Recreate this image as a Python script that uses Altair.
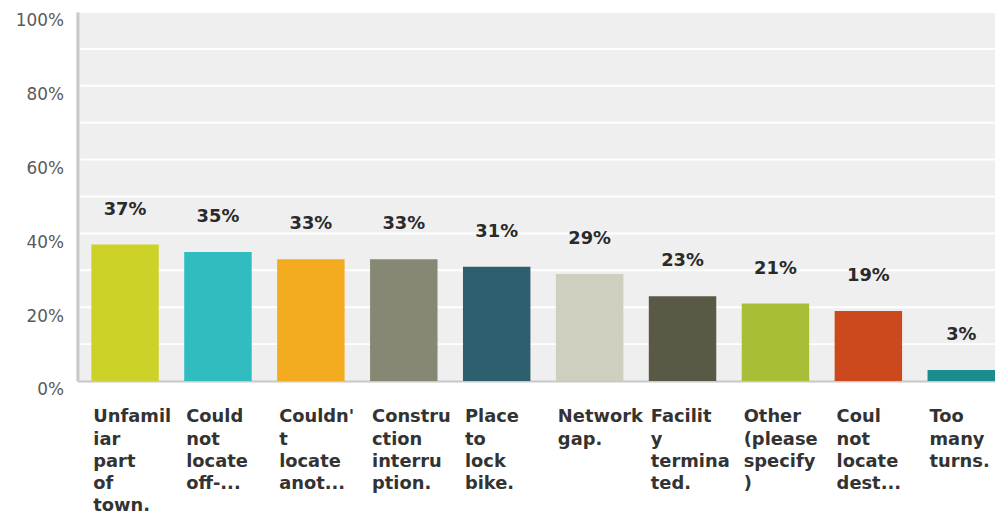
import altair as alt
import pandas as pd

categories = [
    "Unfamil|iar|part|of|town.",
    "Could|not|locate|off-...",
    "Couldn'|t|locate|anot...",
    "Constru|ction|interru|ption.",
    "Place|to|lock|bike.",
    "Network|gap.",
    "Facilit|y|termina|ted.",
    "Other|(please|specify|)",
    "Coul|not|locate|dest...",
    "Too|many|turns.",
]
values = [37, 35, 33, 33, 31, 29, 23, 21, 19, 3]
colors = [
    "#cdd228", "#31bcc0", "#f3ab1f", "#878873", "#2e5f6e",
    "#cfcfc0", "#5a5946", "#a9be37", "#cc481d", "#1b8b8d",
]
y_ticks = [0, 10, 20, 30, 40, 50, 60, 70, 80, 90, 100]

df = pd.DataFrame({
    "cat": categories,
    "val": values,
    "label": [f"{v}%" for v in values],
})
grid_df = pd.DataFrame({"g": y_ticks[1:]})

y_scale = alt.Scale(domain=[0, 100], nice=False)

y_axis = alt.Axis(
    values=y_ticks,
    labelExpr="datum.value % 20 == 0 ? datum.value + '%' : ''",
    labelFont="DejaVu Sans",
    labelFontSize=17,
    labelColor="#5a5a5a",
    labelPadding=14,
    labelOffset=9,
    ticks=False,
    domainColor="#c8c8c8",
    domainWidth=3,
    grid=False,
)

x_enc = alt.X(
    "cat:N",
    sort=categories,
    title=None,
    scale=alt.Scale(paddingInner=0.274, paddingOuter=0.0747, align=1),
    axis=alt.Axis(
        labelExpr="split(datum.value, '|')",
        labelAngle=0,
        labelAlign="left",
        labelBaseline="top",
        labelOffset=-32,
        labelPadding=27,
        labelFont="DejaVu Sans",
        labelFontSize=18,
        labelFontWeight="bold",
        labelColor="#333333",
        labelLineHeight=22.5,
        labelLimit=0,
        labelOverlap=False,
        ticks=False,
        domainColor="#c8c8c8",
        domainWidth=2,
        grid=False,
    ),
)

grid = alt.Chart(grid_df).mark_rule(color="#ffffff", strokeWidth=2).encode(
    y=alt.Y("g:Q", scale=y_scale, title=None, axis=y_axis),
    x=alt.value(3),
    x2=alt.value(925),
)

base = alt.Chart(df).encode(x=x_enc)

bars = base.mark_bar().encode(
    y=alt.Y("val:Q", scale=y_scale, title=None, axis=y_axis),
    color=alt.Color("cat:N", scale=alt.Scale(domain=categories, range=colors), legend=None),
)

text = base.mark_text(
    dy=-35,
    baseline="middle",
    font="DejaVu Sans",
    fontSize=18,
    fontWeight="bold",
    color="#2a2a2a",
).encode(y=alt.Y("val:Q", scale=y_scale, title=None, axis=y_axis), text="label:N")

chart = (
    alt.layer(grid, bars, text)
    .properties(
        width=925,
        height=372,
        autosize=alt.AutoSizeParams(type="none"),
        padding={"left": 70, "top": 2, "right": 0, "bottom": 133},
        background="#ffffff",
    )
    .configure_view(fill="#efefef", stroke=None)
)

chart.save("out.html", embed_options={"renderer": "svg", "actions": False})
